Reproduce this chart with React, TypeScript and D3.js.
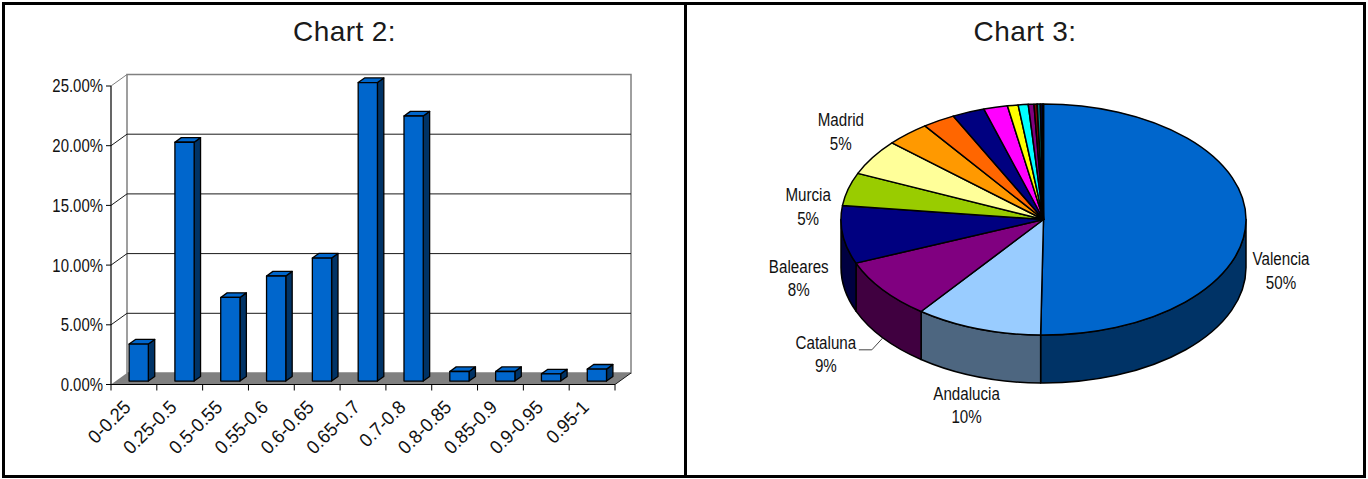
import React from "react";
import * as d3 from "d3";

// ---------- Chart 2 data ----------
const categories = ["0-0.25", "0.25-0.5", "0.5-0.55", "0.55-0.6", "0.6-0.65", "0.65-0.7", "0.7-0.8", "0.8-0.85", "0.85-0.9", "0.9-0.95", "0.95-1"];
const shares = [3.1, 20.0, 7.0, 8.8, 10.3, 25.0, 22.2, 0.8, 0.8, 0.6, 1.0];
const yTicks = [0, 5, 10, 15, 20, 25];

// ---------- Chart 3 data ----------
const regions = ["Valencia", "Andalucia", "Cataluna", "Baleares", "Murcia", "Madrid", "Castilla y León", "Galicia", "Castilla-La Mancha", "País Vasco", "Aragón", "Canarias", "Asturias", "Navarra", "Extremadura", "Cantabria", "La Rioja"];
const regionValues = [50.2, 10.1, 8.5, 8.1, 4.6, 5.0, 3.5, 2.6, 2.6, 1.9, 0.85, 0.8, 0.45, 0.25, 0.25, 0.15, 0.1];
const labeledRegions = ["Valencia", "Andalucia", "Cataluna", "Baleares", "Murcia", "Madrid"];

// ---------- styles / layout ----------
const sliceColors = ["#0066CC", "#99CCFF", "#800080", "#000080", "#99CC00", "#FFFF99", "#FF9900", "#FF6600", "#000080", "#FF00FF", "#FFFF00", "#00FFFF", "#800080", "#800000", "#008080", "#0000FF", "#00CCFF"];
const labelNudge: Record<string, [number, number]> = {
  Valencia: [35, 45],
  Andalucia: [-11, 71],
  Cataluna: [-57, 59],
  Baleares: [-44, 38],
  Murcia: [-40, 12],
  Madrid: [-32, -31],
};
const FONT = "'Liberation Sans', Arial, Helvetica, sans-serif";
const TITLE_FONT = "'Liberation Sans', Arial, Helvetica, sans-serif";

type NTextProps = { x: number; y: number; rotate?: number; sx?: number; anchor?: string; size?: number; dy?: string; children: React.ReactNode };
function NText({ x, y, rotate = 0, sx = 0.87, anchor = "middle", size = 17, dy, children }: NTextProps) {
  return (
    <text transform={`translate(${x},${y}) rotate(${rotate}) scale(${sx},1)`} textAnchor={anchor} dy={dy} fontFamily={FONT} fontSize={size} fill="#111">
      {children}
    </text>
  );
}

function BarChart() {
  const DX = 16, DY = -11.5;
  const x = d3.scaleBand<string>().domain(categories).range([111, 615]).padding(0);
  const y = d3.scaleLinear().domain([0, 25]).range([384.5, 86]);
  const bw = x.bandwidth();
  const barW = bw * 0.42;
  const f1 = 0.3, f2 = 0.7;
  const bx = (f2 - f1) * DX, by = (f2 - f1) * DY;
  const y0 = y(0);
  const wallL = 111 + DX, wallR = 615 + DX;
  const boundaries = d3.range(categories.length + 1).map((i) => 111 + i * bw);
  return (
    <g>
      <text x={344.5} y={41} textAnchor="middle" fontFamily={TITLE_FONT} fontSize={28} letterSpacing={0.4} fill="#1a1a1a">Chart 2:</text>
      {/* floor */}
      <polygon points={`${111},${y0} ${615},${y0} ${wallR},${y0 + DY} ${wallL},${y0 + DY}`} fill="#808080" />
      {/* back wall */}
      <rect x={wallL} y={y(25) + DY} width={wallR - wallL} height={y0 - y(25)} fill="none" stroke="#808080" strokeWidth={1.5} />
      {yTicks.filter((t) => t > 0 && t < 25).map((t) => (
        <line key={t} x1={wallL} x2={wallR} y1={y(t) + DY} y2={y(t) + DY} stroke="#1a1a1a" strokeWidth={1} />
      ))}
      {/* side-wall diagonals */}
      {yTicks.filter((t) => t > 0).map((t) => (
        <line key={t} x1={111} y1={y(t)} x2={wallL} y2={y(t) + DY} stroke={t === 25 ? "#808080" : "#1a1a1a"} strokeWidth={1} />
      ))}
      {/* floor right edge */}
      <line x1={615} y1={y0} x2={wallR} y2={y0 + DY} stroke="#1a1a1a" strokeWidth={1} />
      {/* bars */}
      {categories.map((c, i) => {
        const xl = (x(c) as number) + (bw - barW) / 2 + f1 * DX;
        const xr = xl + barW;
        const yb = y0 + f1 * DY;
        const yt = y(shares[i]) + f1 * DY;
        return (
          <g key={c} stroke="#000" strokeWidth={1.3} strokeLinejoin="round">
            <polygon points={`${xr},${yt} ${xr + bx},${yt + by} ${xr + bx},${yb + by} ${xr},${yb}`} fill="#003366" />
            <polygon points={`${xl},${yt} ${xr},${yt} ${xr + bx},${yt + by} ${xl + bx},${yt + by}`} fill="#0066CC" />
            <rect x={xl} y={yt} width={barW} height={yb - yt} fill="#0066CC" />
          </g>
        );
      })}
      {/* axes */}
      <line x1={111} x2={111} y1={y(25)} y2={y0} stroke="#000" strokeWidth={1.2} />
      <line x1={111} x2={615} y1={y0} y2={y0} stroke="#000" strokeWidth={1.2} />
      {yTicks.map((t) => (
        <g key={t}>
          <line x1={106} x2={111} y1={y(t)} y2={y(t)} stroke="#000" strokeWidth={1} />
          <NText x={103} y={y(t)} dy="0.36em" anchor="end" size={18} sx={0.83}>{t.toFixed(2) + "%"}</NText>
        </g>
      ))}
      {boundaries.map((bxv, i) => (
        <line key={i} x1={bxv} x2={bxv} y1={y0} y2={y0 + 6} stroke="#000" strokeWidth={1} />
      ))}
      {categories.map((c) => {
        const cx = (x(c) as number) + bw / 2;
        return (
          <NText key={c} x={cx - 2} y={y0 + 24} rotate={-45} anchor="end" size={19} sx={0.95}>{c}</NText>
        );
      })}
    </g>
  );
}

function PieChart() {
  const cx = 1043.5, cy = 219.5, rx = 202.5, ry = 115.5, depth = 48;
  const total = d3.sum(regionValues);
  const arcs = d3.pie<number>().sort(null).startAngle(0).endAngle(2 * Math.PI)(regionValues);
  const P = (a: number, dy = 0): [number, number] => [cx + rx * Math.sin(a), cy - ry * Math.cos(a) + dy];
  const fmt = (p: [number, number]) => `${p[0]},${p[1]}`;
  const side = (s: number, e: number) => {
    const a = P(s), b = P(e), c = P(e, depth), d = P(s, depth);
    return `M${fmt(a)} A${rx},${ry} 0 0 1 ${fmt(b)} L${fmt(c)} A${rx},${ry} 0 0 0 ${fmt(d)} Z`;
  };
  const top = (s: number, e: number) => {
    const a = P(s), b = P(e);
    const large = e - s > Math.PI ? 1 : 0;
    return `M${cx},${cy} L${fmt(a)} A${rx},${ry} 0 ${large} 1 ${fmt(b)} Z`;
  };
  const lo = Math.PI / 2, hi = (3 * Math.PI) / 2;
  return (
    <g>
      <text x={1025} y={41} textAnchor="middle" fontFamily={TITLE_FONT} fontSize={28} letterSpacing={0.4} fill="#1a1a1a">Chart 3:</text>
      {arcs.map((a, i) => {
        const s = Math.max(a.startAngle, lo), e = Math.min(a.endAngle, hi);
        if (e <= s) return null;
        const c = d3.rgb(sliceColors[i]);
        const dk = d3.rgb(c.r * 0.5, c.g * 0.5, c.b * 0.5).formatHex();
        return <path key={"s" + i} d={side(s, e)} fill={dk} stroke="#000" strokeWidth={1.5} strokeLinejoin="round" />;
      })}
      {arcs.map((a, i) => (
        <path key={"t" + i} d={top(a.startAngle, a.endAngle)} fill={sliceColors[i]} stroke="#000" strokeWidth={1.5} strokeLinejoin="round" />
      ))}
      {arcs.map((a, i) => {
        const name = regions[i];
        if (!labeledRegions.includes(name)) return null;
        const mid = (a.startAngle + a.endAngle) / 2;
        const p = P(mid);
        const [nx, ny] = labelNudge[name];
        const lx = p[0] + nx, ly = p[1] + ny;
        const pct = Math.round((regionValues[i] / total) * 100) + "%";
        return (
          <g key={"l" + i}>
            {name === "Cataluna" && (
              <polyline points={`${lx + 33},${ly + 1} ${p[0] - 11},${ly + 1} ${p[0]},${p[1] + depth}`} fill="none" stroke="#444" strokeWidth={1} />
            )}
            <NText x={lx} y={ly} size={18.5} sx={0.82}>{name}</NText>
            <NText x={lx} y={ly + 23.5} size={18.5} sx={0.82}>{pct}</NText>
          </g>
        );
      })}
    </g>
  );
}

export default function App() {
  return (
    <svg width={1368} height={479} style={{ position: "absolute", left: 0, top: 0, background: "#fff" }}>
      <rect x={0} y={0} width={1368} height={479} fill="#fff" />
      <BarChart />
      <PieChart />
      <rect x={3.5} y={3.5} width={1361} height={473} fill="none" stroke="#000" strokeWidth={3} />
      <line x1={685.5} x2={685.5} y1={3.5} y2={476.5} stroke="#000" strokeWidth={3} />
    </svg>
  );
}
